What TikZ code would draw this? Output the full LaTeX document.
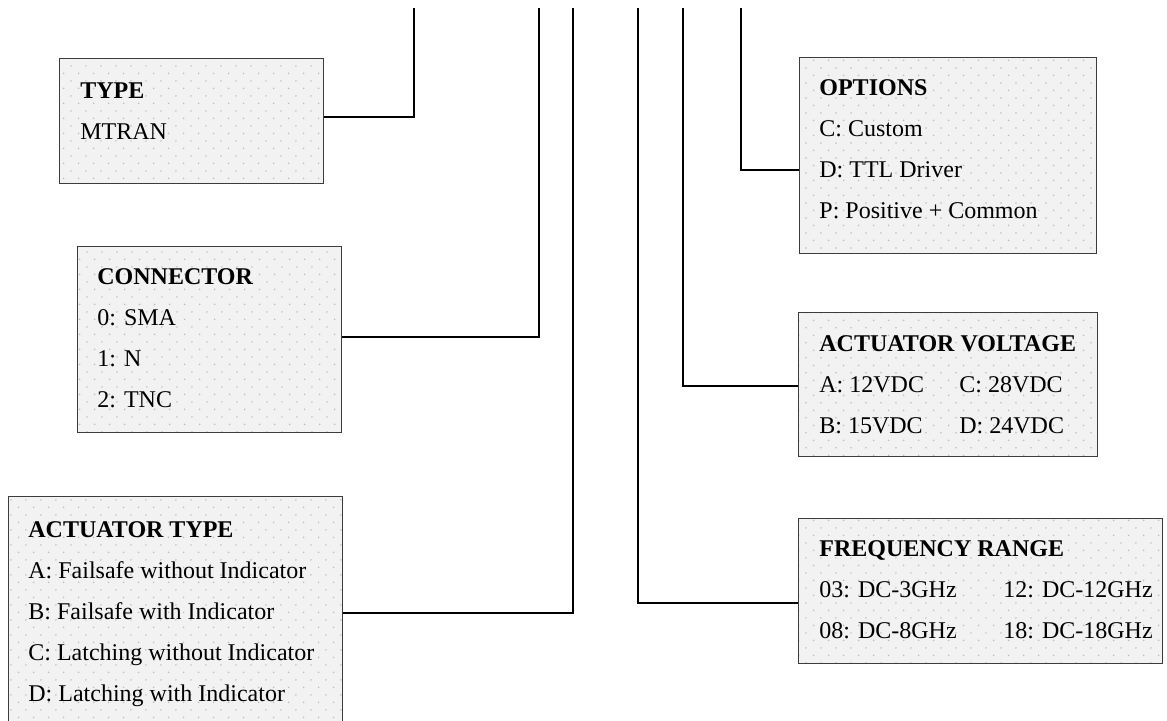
\documentclass[tikz,border=0pt]{standalone}
\usepackage{fontspec}
\setmainfont{Liberation Serif}
\usetikzlibrary{patterns.meta}

\definecolor{boxfill}{HTML}{F2F2F2}
\definecolor{boxline}{HTML}{3C3C3C}
\definecolor{dotgray}{HTML}{BDBDBD}

\tikzdeclarepattern{
  name=softdots,
  type=uncolored,
  bottom left={(0pt,0pt)},
  top right={(7.65pt,7.7pt)},
  tile size={(7.65pt,7.7pt)},
  code={
    \fill (1.9pt,1.9pt) circle (0.45pt);
    \fill (5.73pt,5.75pt) circle (0.45pt);
  }
}

\tikzset{
  partbox/.style={draw=boxline, line width=0.6pt, preaction={fill=boxfill},
    pattern=softdots, pattern color=dotgray, anchor=north west, inner sep=0pt},
  entry/.style={anchor=base west, inner sep=0pt, font=\fontsize{12}{20.6}\selectfont},
  link/.style={line width=1pt}
}

\begin{document}
\begin{tikzpicture}[x=0.5pt, y=-0.5pt]
\useasboundingbox (0,0) rectangle (1167,720);

% Code positions
\coordinate (topType) at (414,8);
\coordinate (topConn) at (539,8);
\coordinate (topAct) at (573,8);
\coordinate (topFreq) at (638,8);
\coordinate (topVolt) at (683,8);
\coordinate (topOpt) at (741,8);

% Boxes
\node[partbox, minimum width=132pt, minimum height=62.5pt] (typebox) at (59,58) {};
\node[partbox, minimum width=132pt, minimum height=93pt] (connbox) at (77,246) {};
\node[partbox, minimum width=167pt, minimum height=120pt] (actbox) at (8,496) {};
\node[partbox, minimum width=148.5pt, minimum height=98pt] (optbox) at (799,57) {};
\node[partbox, minimum width=149.5pt, minimum height=72pt] (voltbox) at (798,312) {};
\node[partbox, minimum width=182pt, minimum height=72.5pt] (freqbox) at (798,518) {};

% Box texts
\node[entry] (typetext) at ([shift={(10.5pt,-20pt)}]typebox.north west)
  {\begin{tabular}[t]{@{}l@{}}\textbf{TYPE}\\ MTRAN\end{tabular}};
\node[entry] (conntext) at ([shift={(10pt,-19pt)}]connbox.north west)
  {\begin{tabular}[t]{@{}l@{}}\textbf{CONNECTOR}\\ 0: SMA\\ 1: N\\ 2: TNC\end{tabular}};
\node[entry] (acttext) at ([shift={(10pt,-20.5pt)}]actbox.north west)
  {\begin{tabular}[t]{@{}l@{}}\textbf{ACTUATOR TYPE}\\ A: Failsafe without Indicator\\
   B: Failsafe with Indicator\\ C: Latching without Indicator\\ D: Latching with Indicator\end{tabular}};
\node[entry] (opttext) at ([shift={(10pt,-19pt)}]optbox.north west)
  {\begin{tabular}[t]{@{}l@{}}\textbf{OPTIONS}\\ C: Custom\\ D: TTL Driver\\ P: Positive + Common\end{tabular}};
\node[entry] (volttext) at ([shift={(10.5pt,-19.5pt)}]voltbox.north west)
  {\begin{tabular}[t]{@{}p{70pt}@{}l@{}}\multicolumn{2}{@{}l@{}}{\textbf{ACTUATOR VOLTAGE}}\\
   A: 12VDC & C: 28VDC\\ B: 15VDC & D: 24VDC\end{tabular}};
\node[entry] (freqtext) at ([shift={(10.5pt,-19pt)}]freqbox.north west)
  {\begin{tabular}[t]{@{}p{92pt}@{}l@{}}\multicolumn{2}{@{}l@{}}{\textbf{FREQUENCY RANGE}}\\
   03: DC-3GHz & 12: DC-12GHz\\ 08: DC-8GHz & 18: DC-18GHz\end{tabular}};

% Leader lines
\draw[link] (topType) |- ([yshift=2.25pt]typebox.east);
\draw[link] (topConn) |- ([yshift=1.5pt]connbox.east);
\draw[link] (topAct) |- ([yshift=2pt]actbox.east);
\draw[link] (topFreq) |- ([yshift=-5.75pt]freqbox.west);
\draw[link] (topVolt) |- ([yshift=-0.5pt]voltbox.west);
\draw[link] (topOpt) |- ([yshift=-7pt]optbox.west);
\end{tikzpicture}
\end{document}
